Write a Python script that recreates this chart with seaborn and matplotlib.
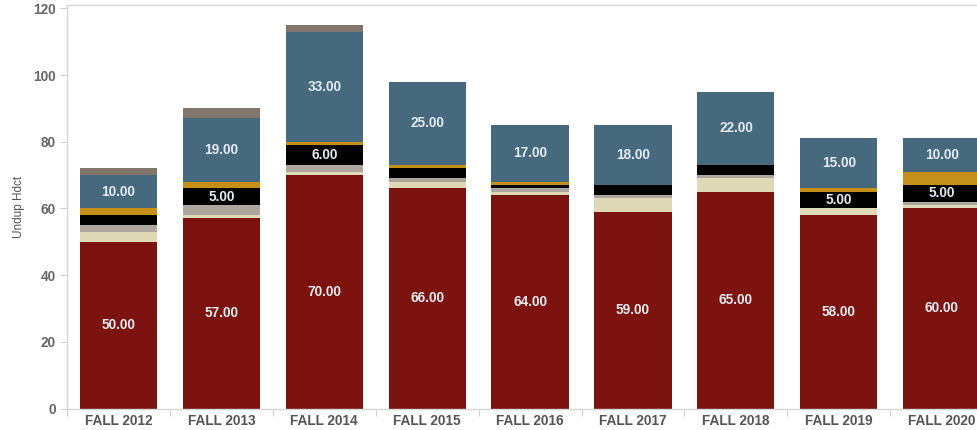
import numpy as np
import pandas as pd
import matplotlib
matplotlib.use("Agg")
import matplotlib.pyplot as plt
import seaborn as sns

# Headcount by term, split into stacked components (bottom to top)
terms = ["FALL 2012", "FALL 2013", "FALL 2014", "FALL 2015", "FALL 2016",
         "FALL 2017", "FALL 2018", "FALL 2019", "FALL 2020"]
maroon = [50, 57, 70, 66, 64, 59, 65, 58, 60]
cream = [3, 1, 1, 2, 1, 4, 4, 2, 1]
silver = [2, 3, 2, 1, 1, 1, 1, 0, 1]
black = [3, 5, 6, 3, 1, 3, 3, 5, 5]
gold = [2, 2, 1, 1, 1, 0, 0, 1, 4]
slate = [10, 19, 33, 25, 17, 18, 22, 15, 10]
taupe = [2, 3, 2, 0, 0, 0, 0, 0, 0]

layers = [maroon, cream, silver, black, gold, slate, taupe]
colors = ["#7c130f", "#e0d9b8", "#aca69e", "#000000", "#c4901a", "#46697e", "#81766c"]

sns.set_theme(style="white")
plt.rcParams["font.family"] = ["Liberation Sans", "DejaVu Sans"]

fig = plt.figure(figsize=(9.77, 4.30), dpi=100)
ax = fig.add_axes([67 / 977, 21.5 / 430, 1 - 67 / 977, (408.5 - 4.7) / 430])

values = np.array(layers, dtype=float)
tops = values.cumsum(axis=0)
bottoms = tops - values

# Draw cumulative bars from the top layer down so each lower layer covers the rest
for i in range(len(layers) - 1, -1, -1):
    df = pd.DataFrame({"term": terms, "total": tops[i]})
    sns.barplot(data=df, x="term", y="total", order=terms, color=colors[i],
                saturation=1, width=0.75, ax=ax, linewidth=0, errorbar=None)

# Value labels on segments large enough to hold them
for i, layer in enumerate(layers):
    for j, v in enumerate(layer):
        if v >= 5:
            ax.text(j, bottoms[i, j] + v / 2, f"{v:.2f}", ha="center", va="center",
                    fontsize=9.8, fontweight="bold", color="#e4ebf2")

ax.set_yticks([0, 20, 40, 60, 80, 100, 120])
ax.set_xlabel("")
ax.set_ylabel("Undup Hdct", fontsize=8.5, color="#555555")
ax.yaxis.set_label_coords(-0.046, 0.5)

ax.tick_params(axis="y", which="major", length=5, width=0.8, color="#d0d0d0",
               labelsize=9.8, labelcolor="#666666", pad=3, left=True)
for lbl in ax.get_yticklabels():
    lbl.set_fontweight("bold")
ax.tick_params(axis="x", which="major", length=0, labelsize=9.8,
               labelcolor="#555555", pad=4)
for lbl in ax.get_xticklabels():
    lbl.set_fontweight("bold")
# Category separators on the x axis
ax.set_xticks(np.arange(-0.5, 8.0, 1.0), minor=True)
ax.tick_params(axis="x", which="minor", length=5, width=0.8, color="#d0d0d0",
               bottom=True)

# Limits last so tick placement cannot widen the view
ax.set_xlim(-0.5, 8.343)
ax.set_ylim(0, 121.1)

for side in ["left", "bottom", "top"]:
    ax.spines[side].set_color("#d6d6d6")
    ax.spines[side].set_linewidth(1)
ax.spines["right"].set_visible(False)
ax.grid(False)

fig.savefig("out.png", dpi=100)
